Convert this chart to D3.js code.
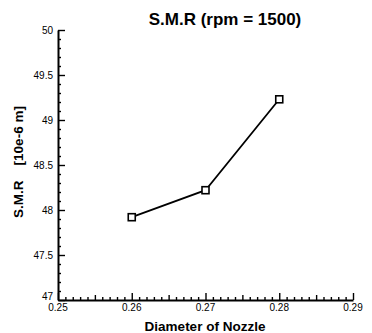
<!DOCTYPE html>
<html>
<head>
<meta charset="utf-8">
<script src="https://cdn.jsdelivr.net/npm/d3@7"></script>
<style>
  body { margin: 0; background: #fff; }
  text { font-family: "Liberation Sans", Arial, sans-serif; fill: #000; }
  .tick-label { font-size: 10px; }
  .axis-title { font-size: 13.5px; font-weight: bold; }
  .chart-title { font-size: 17px; font-weight: bold; }
  .axis path { stroke: #000; stroke-width: 2px; }
  .axis line { stroke: #000; stroke-width: 1.4px; }
</style>
</head>
<body>
<div id="chart"></div>
<script>
// data
const diameters = [0.26, 0.27, 0.28];
const smrValues = [47.92, 48.22, 49.23];
const xTicks = [0.25, 0.26, 0.27, 0.28, 0.29];
const yTicks = [47, 47.5, 48, 48.5, 49, 49.5, 50];

const width = 372, height = 333;
const margin = { left: 58, right: 19, top: 30, bottom: 33 };

const x = d3.scaleLinear().domain([0.25, 0.29]).range([margin.left, width - margin.right]);
const y = d3.scaleLinear().domain([47, 50]).range([height - margin.bottom, margin.top]);

const svg = d3.select('#chart').append('svg')
  .attr('width', width)
  .attr('height', height);

// x ticks: minor every 0.001, medium at 0.005, major at 0.01 (pointing inward)
const xMinor = d3.range(0, 41).map(i => +(0.25 + i * 0.001).toFixed(3));
const xAxis = svg.append('g')
  .attr('class', 'axis')
  .attr('transform', 'translate(0,' + y(47) + ')')
  .call(d3.axisBottom(x).tickValues(xMinor).tickSizeOuter(0).tickFormat(''));
xAxis.selectAll('.tick line')
  .attr('y2', (d, i) => -(i % 10 === 0 ? 7 : i % 5 === 0 ? 5 : 3));

// y ticks: minor every 0.1, major at 0.5
const yMinor = d3.range(0, 31).map(i => +(47 + i * 0.1).toFixed(1));
const yAxis = svg.append('g')
  .attr('class', 'axis')
  .attr('transform', 'translate(' + x(0.25) + ',0)')
  .call(d3.axisLeft(y).tickValues(yMinor).tickSizeOuter(0).tickFormat(''));
yAxis.selectAll('.tick line')
  .attr('x2', (d, i) => (i % 5 === 0 ? 7 : 3));

// tick labels
svg.append('g').selectAll('text')
  .data(xTicks)
  .join('text')
  .attr('class', 'tick-label')
  .attr('x', d => x(d))
  .attr('y', y(47) + 11)
  .attr('text-anchor', 'middle')
  .text(d => d3.format('.2f')(d));

svg.append('g').selectAll('text')
  .data(yTicks)
  .join('text')
  .attr('class', 'tick-label')
  .attr('x', x(0.25) - 5)
  .attr('y', d => y(d) + (d === 47 ? 0 : 3.5))
  .attr('text-anchor', 'end')
  .text(d => d);

// line
const line = d3.line()
  .x((d, i) => x(diameters[i]))
  .y(d => y(d));
svg.append('path')
  .datum(smrValues)
  .attr('d', line)
  .attr('fill', 'none')
  .attr('stroke', '#000')
  .attr('stroke-width', 1.8);

// markers
svg.append('g').selectAll('rect')
  .data(smrValues)
  .join('rect')
  .attr('x', (d, i) => x(diameters[i]) - 3.5)
  .attr('y', d => y(d) - 3.5)
  .attr('width', 7)
  .attr('height', 7)
  .attr('fill', '#fff')
  .attr('stroke', '#000')
  .attr('stroke-width', 1.6);

// titles
svg.append('text')
  .attr('class', 'chart-title')
  .attr('x', 225)
  .attr('y', 25)
  .attr('text-anchor', 'middle')
  .text('S.M.R (rpm = 1500)');

svg.append('text')
  .attr('class', 'axis-title')
  .attr('x', 205)
  .attr('y', 331)
  .attr('text-anchor', 'middle')
  .text('Diameter of Nozzle');

svg.append('text')
  .attr('class', 'axis-title')
  .attr('transform', 'translate(23,162) rotate(-90)')
  .attr('text-anchor', 'middle')
  .attr('xml:space', 'preserve')
  .style('white-space', 'pre')
  .text('S.M.R    [10e-6 m]');
</script>
</body>
</html>
